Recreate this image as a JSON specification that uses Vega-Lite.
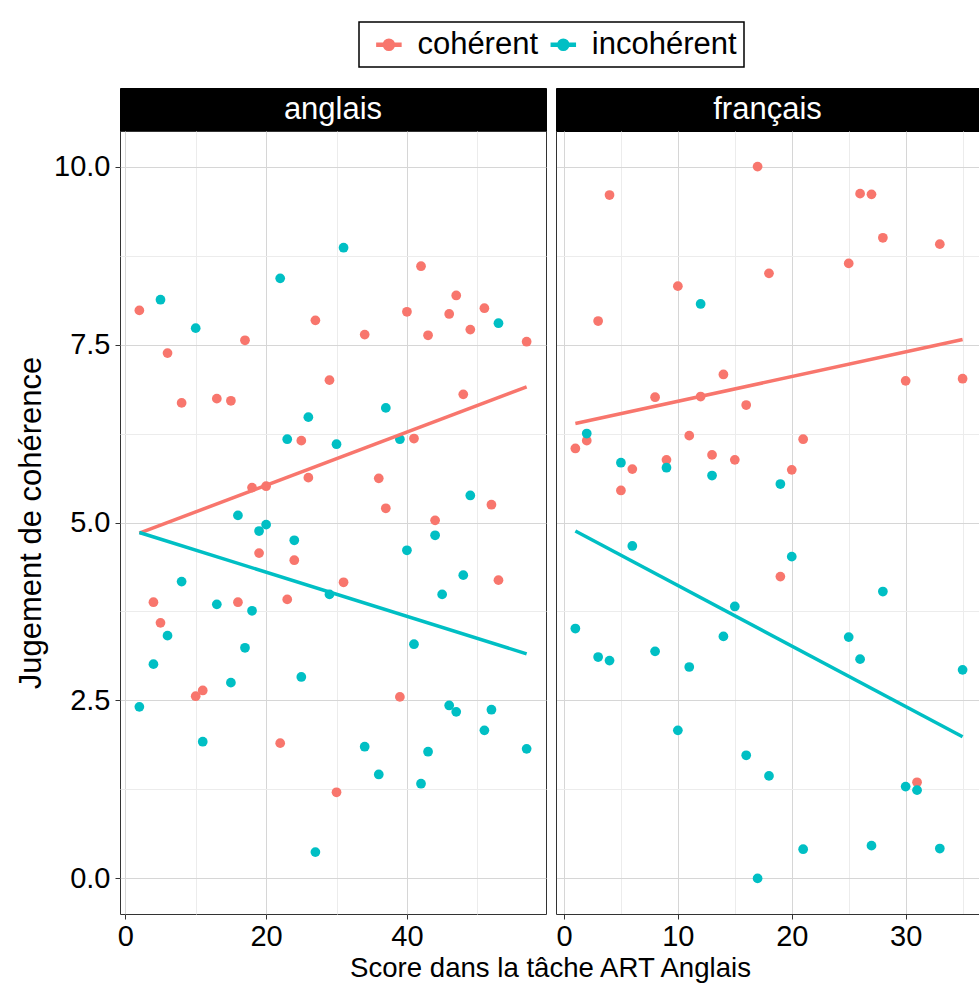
{
  "$schema": "https://vega.github.io/schema/vega-lite/v6.json",
  "background": "white",
  "padding": {"left": 15, "top": 21, "right": 0, "bottom": 0},
  "bounds": "flush",
  "columns": 2,
  "spacing": {"row": 0, "column": 10},
  "config": {
    "font": "Liberation Sans",
    "view": {"stroke": "#333333", "strokeWidth": 1},
    "axis": {
      "labelFont": "Liberation Sans",
      "labelFontSize": 29,
      "labelColor": "#000000",
      "titleFont": "Liberation Sans",
      "titleFontWeight": "normal",
      "titleColor": "#000000",
      "tickColor": "#333333",
      "tickSize": 5,
      "domain": false,
      "gridWidth": 1
    },
    "legend": {"strokeWidth": 1.5}
  },
  "datasets": {
    "points": [
      {"langue": "anglais", "condition": "cohérent", "score": 2, "jugement": 7.98},
      {"langue": "anglais", "condition": "cohérent", "score": 27, "jugement": 7.84},
      {"langue": "anglais", "condition": "cohérent", "score": 6, "jugement": 7.38},
      {"langue": "anglais", "condition": "cohérent", "score": 17, "jugement": 7.56},
      {"langue": "anglais", "condition": "cohérent", "score": 8, "jugement": 6.68},
      {"langue": "anglais", "condition": "cohérent", "score": 13, "jugement": 6.74},
      {"langue": "anglais", "condition": "cohérent", "score": 15, "jugement": 6.71},
      {"langue": "anglais", "condition": "cohérent", "score": 29, "jugement": 7.0},
      {"langue": "anglais", "condition": "cohérent", "score": 25, "jugement": 6.15},
      {"langue": "anglais", "condition": "cohérent", "score": 18, "jugement": 5.49},
      {"langue": "anglais", "condition": "cohérent", "score": 20, "jugement": 5.51},
      {"langue": "anglais", "condition": "cohérent", "score": 26, "jugement": 5.63},
      {"langue": "anglais", "condition": "cohérent", "score": 42, "jugement": 8.6},
      {"langue": "anglais", "condition": "cohérent", "score": 47, "jugement": 8.19},
      {"langue": "anglais", "condition": "cohérent", "score": 40, "jugement": 7.96},
      {"langue": "anglais", "condition": "cohérent", "score": 46, "jugement": 7.93},
      {"langue": "anglais", "condition": "cohérent", "score": 51, "jugement": 8.01},
      {"langue": "anglais", "condition": "cohérent", "score": 34, "jugement": 7.64},
      {"langue": "anglais", "condition": "cohérent", "score": 43, "jugement": 7.63},
      {"langue": "anglais", "condition": "cohérent", "score": 49, "jugement": 7.71},
      {"langue": "anglais", "condition": "cohérent", "score": 57, "jugement": 7.54},
      {"langue": "anglais", "condition": "cohérent", "score": 48, "jugement": 6.8},
      {"langue": "anglais", "condition": "cohérent", "score": 41, "jugement": 6.18},
      {"langue": "anglais", "condition": "cohérent", "score": 36, "jugement": 5.62},
      {"langue": "anglais", "condition": "cohérent", "score": 37, "jugement": 5.2},
      {"langue": "anglais", "condition": "cohérent", "score": 52, "jugement": 5.25},
      {"langue": "anglais", "condition": "cohérent", "score": 19, "jugement": 4.57},
      {"langue": "anglais", "condition": "cohérent", "score": 24, "jugement": 4.47},
      {"langue": "anglais", "condition": "cohérent", "score": 4, "jugement": 3.88},
      {"langue": "anglais", "condition": "cohérent", "score": 16, "jugement": 3.88},
      {"langue": "anglais", "condition": "cohérent", "score": 23, "jugement": 3.92},
      {"langue": "anglais", "condition": "cohérent", "score": 5, "jugement": 3.59},
      {"langue": "anglais", "condition": "cohérent", "score": 11, "jugement": 2.64},
      {"langue": "anglais", "condition": "cohérent", "score": 10, "jugement": 2.56},
      {"langue": "anglais", "condition": "cohérent", "score": 22, "jugement": 1.9},
      {"langue": "anglais", "condition": "cohérent", "score": 30, "jugement": 1.21},
      {"langue": "anglais", "condition": "cohérent", "score": 31, "jugement": 4.16},
      {"langue": "anglais", "condition": "cohérent", "score": 44, "jugement": 5.03},
      {"langue": "anglais", "condition": "cohérent", "score": 53, "jugement": 4.19},
      {"langue": "anglais", "condition": "cohérent", "score": 39, "jugement": 2.55},
      {"langue": "anglais", "condition": "incohérent", "score": 22, "jugement": 8.43},
      {"langue": "anglais", "condition": "incohérent", "score": 5, "jugement": 8.13},
      {"langue": "anglais", "condition": "incohérent", "score": 10, "jugement": 7.73},
      {"langue": "anglais", "condition": "incohérent", "score": 26, "jugement": 6.48},
      {"langue": "anglais", "condition": "incohérent", "score": 23, "jugement": 6.17},
      {"langue": "anglais", "condition": "incohérent", "score": 30, "jugement": 6.1},
      {"langue": "anglais", "condition": "incohérent", "score": 31, "jugement": 8.86},
      {"langue": "anglais", "condition": "incohérent", "score": 53, "jugement": 7.8},
      {"langue": "anglais", "condition": "incohérent", "score": 37, "jugement": 6.61},
      {"langue": "anglais", "condition": "incohérent", "score": 39, "jugement": 6.17},
      {"langue": "anglais", "condition": "incohérent", "score": 49, "jugement": 5.38},
      {"langue": "anglais", "condition": "incohérent", "score": 16, "jugement": 5.1},
      {"langue": "anglais", "condition": "incohérent", "score": 19, "jugement": 4.88},
      {"langue": "anglais", "condition": "incohérent", "score": 20, "jugement": 4.97},
      {"langue": "anglais", "condition": "incohérent", "score": 24, "jugement": 4.75},
      {"langue": "anglais", "condition": "incohérent", "score": 8, "jugement": 4.17},
      {"langue": "anglais", "condition": "incohérent", "score": 13, "jugement": 3.85},
      {"langue": "anglais", "condition": "incohérent", "score": 18, "jugement": 3.76},
      {"langue": "anglais", "condition": "incohérent", "score": 29, "jugement": 3.99},
      {"langue": "anglais", "condition": "incohérent", "score": 6, "jugement": 3.41},
      {"langue": "anglais", "condition": "incohérent", "score": 17, "jugement": 3.24},
      {"langue": "anglais", "condition": "incohérent", "score": 4, "jugement": 3.01},
      {"langue": "anglais", "condition": "incohérent", "score": 25, "jugement": 2.83},
      {"langue": "anglais", "condition": "incohérent", "score": 15, "jugement": 2.75},
      {"langue": "anglais", "condition": "incohérent", "score": 2, "jugement": 2.41},
      {"langue": "anglais", "condition": "incohérent", "score": 11, "jugement": 1.92},
      {"langue": "anglais", "condition": "incohérent", "score": 27, "jugement": 0.37},
      {"langue": "anglais", "condition": "incohérent", "score": 44, "jugement": 4.82},
      {"langue": "anglais", "condition": "incohérent", "score": 40, "jugement": 4.61},
      {"langue": "anglais", "condition": "incohérent", "score": 48, "jugement": 4.26},
      {"langue": "anglais", "condition": "incohérent", "score": 45, "jugement": 3.99},
      {"langue": "anglais", "condition": "incohérent", "score": 41, "jugement": 3.29},
      {"langue": "anglais", "condition": "incohérent", "score": 46, "jugement": 2.43},
      {"langue": "anglais", "condition": "incohérent", "score": 47, "jugement": 2.34},
      {"langue": "anglais", "condition": "incohérent", "score": 52, "jugement": 2.37},
      {"langue": "anglais", "condition": "incohérent", "score": 51, "jugement": 2.08},
      {"langue": "anglais", "condition": "incohérent", "score": 34, "jugement": 1.85},
      {"langue": "anglais", "condition": "incohérent", "score": 43, "jugement": 1.78},
      {"langue": "anglais", "condition": "incohérent", "score": 57, "jugement": 1.82},
      {"langue": "anglais", "condition": "incohérent", "score": 36, "jugement": 1.46},
      {"langue": "anglais", "condition": "incohérent", "score": 42, "jugement": 1.33},
      {"langue": "français", "condition": "cohérent", "score": 17, "jugement": 10.0},
      {"langue": "français", "condition": "cohérent", "score": 4, "jugement": 9.6},
      {"langue": "français", "condition": "cohérent", "score": 18, "jugement": 8.5},
      {"langue": "français", "condition": "cohérent", "score": 10, "jugement": 8.32},
      {"langue": "français", "condition": "cohérent", "score": 3, "jugement": 7.83},
      {"langue": "français", "condition": "cohérent", "score": 14, "jugement": 7.08},
      {"langue": "français", "condition": "cohérent", "score": 8, "jugement": 6.76},
      {"langue": "français", "condition": "cohérent", "score": 12, "jugement": 6.77},
      {"langue": "français", "condition": "cohérent", "score": 16, "jugement": 6.65},
      {"langue": "français", "condition": "cohérent", "score": 2, "jugement": 6.15},
      {"langue": "français", "condition": "cohérent", "score": 1, "jugement": 6.04},
      {"langue": "français", "condition": "cohérent", "score": 11, "jugement": 6.22},
      {"langue": "français", "condition": "cohérent", "score": 6, "jugement": 5.75},
      {"langue": "français", "condition": "cohérent", "score": 9, "jugement": 5.88},
      {"langue": "français", "condition": "cohérent", "score": 13, "jugement": 5.95},
      {"langue": "français", "condition": "cohérent", "score": 15, "jugement": 5.88},
      {"langue": "français", "condition": "cohérent", "score": 5, "jugement": 5.45},
      {"langue": "français", "condition": "cohérent", "score": 26, "jugement": 9.62},
      {"langue": "français", "condition": "cohérent", "score": 27, "jugement": 9.61},
      {"langue": "français", "condition": "cohérent", "score": 28, "jugement": 9.0},
      {"langue": "français", "condition": "cohérent", "score": 33, "jugement": 8.91},
      {"langue": "français", "condition": "cohérent", "score": 25, "jugement": 8.64},
      {"langue": "français", "condition": "cohérent", "score": 30, "jugement": 6.99},
      {"langue": "français", "condition": "cohérent", "score": 35, "jugement": 7.02},
      {"langue": "français", "condition": "cohérent", "score": 21, "jugement": 6.17},
      {"langue": "français", "condition": "cohérent", "score": 20, "jugement": 5.74},
      {"langue": "français", "condition": "cohérent", "score": 19, "jugement": 4.24},
      {"langue": "français", "condition": "cohérent", "score": 31, "jugement": 1.35},
      {"langue": "français", "condition": "incohérent", "score": 12, "jugement": 8.07},
      {"langue": "français", "condition": "incohérent", "score": 2, "jugement": 6.25},
      {"langue": "français", "condition": "incohérent", "score": 5, "jugement": 5.84},
      {"langue": "français", "condition": "incohérent", "score": 9, "jugement": 5.77},
      {"langue": "français", "condition": "incohérent", "score": 13, "jugement": 5.66},
      {"langue": "français", "condition": "incohérent", "score": 19, "jugement": 5.54},
      {"langue": "français", "condition": "incohérent", "score": 6, "jugement": 4.67},
      {"langue": "français", "condition": "incohérent", "score": 15, "jugement": 3.82},
      {"langue": "français", "condition": "incohérent", "score": 1, "jugement": 3.51},
      {"langue": "français", "condition": "incohérent", "score": 14, "jugement": 3.4},
      {"langue": "français", "condition": "incohérent", "score": 3, "jugement": 3.11},
      {"langue": "français", "condition": "incohérent", "score": 4, "jugement": 3.06},
      {"langue": "français", "condition": "incohérent", "score": 8, "jugement": 3.19},
      {"langue": "français", "condition": "incohérent", "score": 11, "jugement": 2.97},
      {"langue": "français", "condition": "incohérent", "score": 10, "jugement": 2.08},
      {"langue": "français", "condition": "incohérent", "score": 16, "jugement": 1.73},
      {"langue": "français", "condition": "incohérent", "score": 18, "jugement": 1.44},
      {"langue": "français", "condition": "incohérent", "score": 17, "jugement": 0.0},
      {"langue": "français", "condition": "incohérent", "score": 20, "jugement": 4.52},
      {"langue": "français", "condition": "incohérent", "score": 28, "jugement": 4.03},
      {"langue": "français", "condition": "incohérent", "score": 25, "jugement": 3.39},
      {"langue": "français", "condition": "incohérent", "score": 26, "jugement": 3.08},
      {"langue": "français", "condition": "incohérent", "score": 35, "jugement": 2.93},
      {"langue": "français", "condition": "incohérent", "score": 30, "jugement": 1.29},
      {"langue": "français", "condition": "incohérent", "score": 31, "jugement": 1.24},
      {"langue": "français", "condition": "incohérent", "score": 21, "jugement": 0.41},
      {"langue": "français", "condition": "incohérent", "score": 27, "jugement": 0.46},
      {"langue": "français", "condition": "incohérent", "score": 33, "jugement": 0.42}
    ],
    "fits": [
      {"langue": "anglais", "condition": "cohérent", "score": 2, "jugement": 4.85},
      {"langue": "anglais", "condition": "cohérent", "score": 57, "jugement": 6.905},
      {"langue": "anglais", "condition": "incohérent", "score": 2, "jugement": 4.86},
      {"langue": "anglais", "condition": "incohérent", "score": 57, "jugement": 3.155},
      {"langue": "français", "condition": "cohérent", "score": 1, "jugement": 6.39},
      {"langue": "français", "condition": "cohérent", "score": 35, "jugement": 7.57},
      {"langue": "français", "condition": "incohérent", "score": 1, "jugement": 4.88},
      {"langue": "français", "condition": "incohérent", "score": 35, "jugement": 1.99}
    ]
  },
  "resolve": {"scale": {"x": "independent", "y": "independent"}},
  "concat": [
    {
      "width": 426,
      "height": 43,
      "view": {"fill": "#000000", "stroke": "#000000"},
      "data": {"values": [{"langue": "anglais"}]},
      "mark": {"type": "text", "color": "white", "fontSize": 31, "font": "Liberation Sans", "align": "center", "baseline": "middle"},
      "encoding": {"text": {"field": "langue"}}
    },
    {
      "width": 423,
      "height": 43,
      "view": {"fill": "#000000", "stroke": "#000000"},
      "data": {"values": [{"langue": "français"}]},
      "mark": {"type": "text", "color": "white", "fontSize": 31, "font": "Liberation Sans", "align": "center", "baseline": "middle"},
      "encoding": {"text": {"field": "langue"}}
    },
    {
      "width": 426,
      "height": 783,
      "encoding": {
        "x": {
          "field": "score", "type": "quantitative",
          "scale": {"domain": [-0.75, 59.75], "nice": false, "zero": false},
          "axis": {
            "values": [0, 10, 20, 30, 40, 50],
            "labelExpr": "datum.value % 20 === 0 ? datum.label : ''",
            "tickOpacity": {"condition": {"test": "datum.value % 20 === 0", "value": 1}, "value": 0},
            "gridColor": {"condition": {"test": "datum.value % 20 === 0", "value": "#d6d6d6"}, "value": "#ececec"},
            "labelPadding": 3,
            "title": "Score dans la tâche ART Anglais",
            "titleFontSize": 27.6,
            "titleX": 430,
            "titleY": 62,
            "titleBaseline": "alphabetic"
          }
        },
        "y": {
          "field": "jugement", "type": "quantitative",
          "scale": {"domain": [-0.5, 10.5], "nice": false, "zero": false},
          "axis": {
            "values": [0, 1.25, 2.5, 3.75, 5, 6.25, 7.5, 8.75, 10],
            "labelExpr": "datum.value % 2.5 === 0 ? format(datum.value, '.1f') : ''",
            "tickOpacity": {"condition": {"test": "datum.value % 2.5 === 0", "value": 1}, "value": 0},
            "gridColor": {"condition": {"test": "datum.value % 2.5 === 0", "value": "#d6d6d6"}, "value": "#ececec"},
            "labelPadding": 5,
            "title": "Jugement de cohérence",
            "titleFontSize": 31,
            "titlePadding": 6
          }
        }
      },
      "layer": [
        {
          "data": {"name": "points"},
          "transform": [{"filter": "datum.langue === 'anglais'"}],
          "mark": {"type": "point", "filled": true, "size": 95, "opacity": 1},
          "encoding": {
            "color": {
              "field": "condition", "type": "nominal",
              "scale": {"domain": ["cohérent", "incohérent"], "range": ["#F8766D", "#00BFC4"]},
              "legend": {
                "title": " ", "titleOrient": "left", "titleFontSize": 31, "titlePadding": 7.4,
                "orient": "none", "legendX": 239, "legendY": -66, "direction": "horizontal",
                "symbolType": "M-1,-0.125H1V0.125H-1Z M0.46,0A0.46,0.46,0,1,1,-0.46,0A0.46,0.46,0,1,1,0.46,0Z",
                "symbolSize": 576,
                "labelFontSize": 31, "labelFont": "Liberation Sans", "labelColor": "#000000",
                "labelOffset": 13, "columnPadding": 9.4, "padding": 7, "strokeColor": "#000000"
              }
            }
          }
        },
        {
          "data": {"name": "fits"},
          "transform": [{"filter": "datum.langue === 'anglais'"}],
          "mark": {"type": "line", "strokeWidth": 3.5},
          "encoding": {
            "stroke": {
              "field": "condition", "type": "nominal",
              "scale": {"domain": ["cohérent", "incohérent"], "range": ["#F8766D", "#00BFC4"]},
              "legend": null
            }
          }
        }
      ]
    },
    {
      "width": 423,
      "height": 783,
      "view": {"stroke": null},
      "encoding": {
        "x": {
          "field": "score", "type": "quantitative",
          "scale": {"domain": [-0.7, 36.44], "nice": false, "zero": false},
          "axis": {
            "values": [0, 5, 10, 15, 20, 25, 30, 35],
            "labelExpr": "datum.value % 10 === 0 ? datum.label : ''",
            "tickOpacity": {"condition": {"test": "datum.value % 10 === 0", "value": 1}, "value": 0},
            "gridColor": {"condition": {"test": "datum.value % 10 === 0", "value": "#d6d6d6"}, "value": "#ececec"},
            "labelPadding": 3,
            "domain": true, "domainColor": "#333333",
            "title": null
          }
        },
        "y": {
          "field": "jugement", "type": "quantitative",
          "scale": {"domain": [-0.5, 10.5], "nice": false, "zero": false},
          "axis": {
            "values": [0, 1.25, 2.5, 3.75, 5, 6.25, 7.5, 8.75, 10],
            "labels": false, "ticks": false,
            "gridColor": {"condition": {"test": "datum.value % 2.5 === 0", "value": "#d6d6d6"}, "value": "#ececec"},
            "domain": true, "domainColor": "#333333",
            "title": null
          }
        }
      },
      "layer": [
        {
          "data": {"name": "points"},
          "transform": [{"filter": "datum.langue === 'français'"}],
          "mark": {"type": "point", "filled": true, "size": 95, "opacity": 1},
          "encoding": {
            "color": {
              "field": "condition", "type": "nominal",
              "scale": {"domain": ["cohérent", "incohérent"], "range": ["#F8766D", "#00BFC4"]},
              "legend": {
                "title": " ", "titleOrient": "left", "titleFontSize": 31, "titlePadding": 7.4,
                "orient": "none", "legendX": 239, "legendY": -66, "direction": "horizontal",
                "symbolType": "M-1,-0.125H1V0.125H-1Z M0.46,0A0.46,0.46,0,1,1,-0.46,0A0.46,0.46,0,1,1,0.46,0Z",
                "symbolSize": 576,
                "labelFontSize": 31, "labelFont": "Liberation Sans", "labelColor": "#000000",
                "labelOffset": 13, "columnPadding": 9.4, "padding": 7, "strokeColor": "#000000"
              }
            }
          }
        },
        {
          "data": {"name": "fits"},
          "transform": [{"filter": "datum.langue === 'français'"}],
          "mark": {"type": "line", "strokeWidth": 3.5},
          "encoding": {
            "stroke": {
              "field": "condition", "type": "nominal",
              "scale": {"domain": ["cohérent", "incohérent"], "range": ["#F8766D", "#00BFC4"]},
              "legend": null
            }
          }
        }
      ]
    }
  ]
}
